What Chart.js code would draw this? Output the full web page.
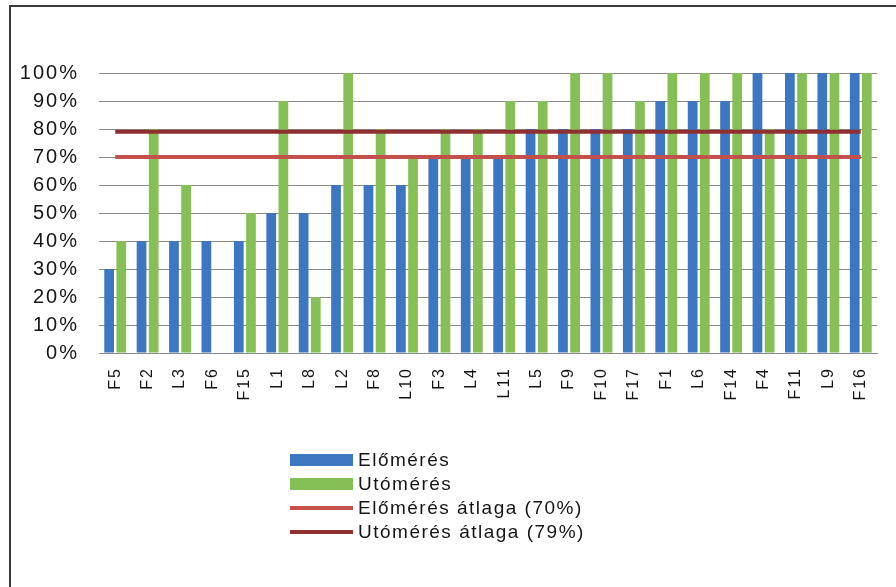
<!DOCTYPE html>
<html>
<head>
<meta charset="utf-8">
<title>Előmérés / Utómérés</title>
<script src="https://cdn.jsdelivr.net/npm/chart.js@4.4.1/dist/chart.umd.min.js"></script>
<style>
  html, body { margin: 0; padding: 0; background: #fff; }
  #wrap { position: relative; width: 896px; height: 587px; overflow: hidden; }
  #frame {
    position: absolute; left: 9px; top: 5px; width: 900px; height: 600px;
    border-left: 2px solid #3a3a3a; border-top: 2px solid #3a3a3a;
  }
  canvas { position: absolute; left: 0; top: 0; }
  #legend {
    position: absolute; left: 290px; top: 448px;
    font-family: "Liberation Sans", Arial, sans-serif; font-size: 19px;
    letter-spacing: 1.5px; color: #151515;
  }
  .item { display: flex; align-items: center; height: 24px; }
  .sw { width: 63px; margin-right: 5px; }
</style>
</head>
<body>
<div id="wrap">
  <div id="frame"></div>
  <canvas id="c" width="896" height="587"></canvas>
  <div id="legend"></div>
</div>
<script>
// chart data
const categories = ['F5', 'F2', 'L3', 'F6', 'F15', 'L1', 'L8', 'L2', 'F8', 'L10', 'F3', 'L4',
                    'L11', 'L5', 'F9', 'F10', 'F17', 'F1', 'L6', 'F14', 'F4', 'F11', 'L9', 'F16'];
const preValues  = [30, 40, 40, 40, 40, 50, 50, 60, 60, 60, 70, 70,
                    70, 80, 80, 80, 80, 90, 90, 90, 100, 100, 100, 100];
const postValues = [40, 80, 60, 0, 50, 90, 20, 100, 80, 70, 80, 80,
                    90, 90, 100, 100, 90, 100, 100, 100, 80, 100, 100, 100];
const preAverage = 70;
const postAverage = 79;
const yTicks = [0, 10, 20, 30, 40, 50, 60, 70, 80, 90, 100];

const seriesNames = ['Előmérés', 'Utómérés', 'Előmérés átlaga (70%)', 'Utómérés átlaga (79%)'];
const colors = ['#3d76c1', '#86bf55', '#c4504c', '#8f2f30'];

// the source picture has widely spaced text
const spacing = {
    id: 'spacing',
    beforeUpdate(chart) { chart.ctx.letterSpacing = '2px'; },
    beforeDraw(chart) { chart.ctx.letterSpacing = '2px'; }
};

new Chart(document.getElementById('c'), {
    type: 'bar',
    data: {
        labels: categories,
        datasets: [
            {
                type: 'line', label: seriesNames[2], order: 0,
                data: categories.map(() => preAverage),
                borderColor: colors[2], borderWidth: 4, pointRadius: 0, fill: false
            },
            {
                type: 'line', label: seriesNames[3], order: 0,
                data: categories.map(() => postAverage),
                borderColor: colors[3], borderWidth: 4, pointRadius: 0, fill: false
            },
            {
                label: seriesNames[0], order: 1, data: preValues,
                backgroundColor: colors[0], categoryPercentage: 0.75, barPercentage: 0.8
            },
            {
                label: seriesNames[1], order: 1, data: postValues,
                backgroundColor: colors[1], categoryPercentage: 0.75, barPercentage: 0.8
            }
        ]
    },
    options: {
        responsive: false,
        animation: false,
        devicePixelRatio: 1,
        layout: { padding: { left: 0, top: 73, right: 19, bottom: 174 } },
        plugins: { legend: { display: false }, tooltip: { enabled: false } },
        scales: {
            x: {
                grid: { display: false },
                border: { color: '#8a8a8a', width: 1 },
                ticks: {
                    autoSkip: false, maxRotation: 90, minRotation: 90, padding: 6,
                    color: '#151515', font: { family: 'Liberation Sans', size: 16 }
                },
                afterFit(scale) { scale.height = 60; }
            },
            y: {
                min: 0, max: 100,
                afterBuildTicks(scale) { scale.ticks = yTicks.map(v => ({ value: v })); },
                grid: { color: '#8a8a8a', lineWidth: 1, drawTicks: false },
                border: { display: false },
                ticks: {
                    padding: 20, color: '#151515',
                    font: { family: 'Liberation Sans', size: 20 },
                    callback: v => v + '%'
                },
                afterFit(scale) { scale.width = 99; }
            }
        }
    },
    plugins: [spacing]
});

// legend, one entry per row
const legend = document.getElementById('legend');
seriesNames.forEach((name, i) => {
    const row = document.createElement('div');
    row.className = 'item';
    const h = i < 2 ? 12 : 4;
    row.innerHTML = `<span class="sw" style="height:${h}px;background:${colors[i]}"></span><span>${name}</span>`;
    legend.appendChild(row);
});
</script>
</body>
</html>
